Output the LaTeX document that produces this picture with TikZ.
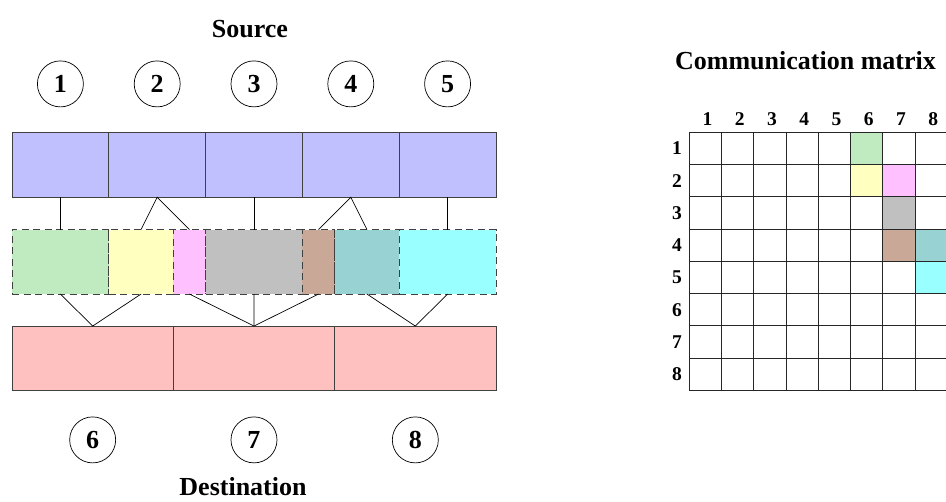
\documentclass[tikz,border=0pt]{standalone}
\usepackage{fontspec}
\setmainfont{Liberation Serif}
\usetikzlibrary{positioning}

\definecolor{srcblue}{HTML}{C0C0FF}
\definecolor{dstpink}{HTML}{FFC0C0}
\definecolor{pgreen}{HTML}{C0EAC0}
\definecolor{pyellow}{HTML}{FFFFC0}
\definecolor{ppink}{HTML}{FFC0FF}
\definecolor{pgray}{HTML}{C0C0C0}
\definecolor{pbrown}{HTML}{C9A897}
\definecolor{pteal}{HTML}{99D2D2}
\definecolor{pcyan}{HTML}{99FFFF}

\tikzset{
  part/.style={draw=black!75, line width=0.8pt, minimum height=64.5pt,
    outer sep=0pt, inner sep=0pt},
  srcbox/.style={part, fill=srcblue, minimum width=96.8pt},
  piece/.style={part, dash pattern=on 7pt off 4.5pt, fill=#1},
  dstbox/.style={part, fill=dstpink, minimum width=161.33pt},
  proc/.style={circle, draw, line width=0.7pt, minimum size=46pt, inner sep=0pt,
    font=\fontsize{26}{30}\selectfont\bfseries},
  heading/.style={inner sep=1pt, font=\fontsize{26}{30}\selectfont\bfseries},
  idx/.style={font=\fontsize{19.5}{22}\selectfont\bfseries},
  link/.style={line width=0.7pt},
  cellline/.style={draw=black!85, line width=0.9pt},
}

\def\gridx{689.3}
\def\gridy{132.3}
\def\cellw{32.27}

\begin{document}
\begin{tikzpicture}[x=1pt, y=-1pt]
  \useasboundingbox (0,0) rectangle (946,502);

  % source blocks
  \node[srcbox] (S1) at (60.4,165) {};
  \node[srcbox, right=0pt of S1] (S2) {};
  \node[srcbox, right=0pt of S2] (S3) {};
  \node[srcbox, right=0pt of S3] (S4) {};
  \node[srcbox, right=0pt of S4] (S5) {};

  % pieces exchanged
  \node[piece=pgreen, minimum width=96.8pt, below=32.3pt of S1] (P1) {};
  \node[piece=pyellow, minimum width=64.53pt, right=0pt of P1] (P2) {};
  \node[piece=ppink, minimum width=32.27pt, right=0pt of P2] (P3) {};
  \node[piece=pgray, minimum width=96.8pt, right=0pt of P3] (P4) {};
  \node[piece=pbrown, minimum width=32.27pt, right=0pt of P4] (P5) {};
  \node[piece=pteal, minimum width=64.53pt, right=0pt of P5] (P6) {};
  \node[piece=pcyan, minimum width=96.8pt, right=0pt of P6] (P7) {};

  % destination blocks
  \node[dstbox, below=32pt of P1.south west, anchor=north west] (D6) {};
  \node[dstbox, right=0pt of D6] (D7) {};
  \node[dstbox, right=0pt of D7] (D8) {};

  % processes
  \node[proc, above=25.5pt of S1] (C1) {1};
  \node[proc, above=25.5pt of S2] (C2) {2};
  \node[proc, above=25.5pt of S3] (C3) {3};
  \node[proc, above=25.5pt of S4] (C4) {4};
  \node[proc, above=25.5pt of S5] (C5) {5};
  \node[proc, below=26pt of D6] (C6) {6};
  \node[proc, below=26pt of D7] (C7) {7};
  \node[proc, below=26pt of D8] (C8) {8};

  \node[heading] (src) at (250,29) {Source};
  \node[heading] (dst) at (243,486.5) {Destination};

  \draw[link] (S1.south) -- (P1.north);
  \draw[link] (P2.north) -- (S2.south) -- (P3.north);
  \draw[link] (S3.south) -- (P4.north);
  \draw[link] (P5.north) -- (S4.south) -- (P6.north);
  \draw[link] (S5.south) -- (P7.north);
  \draw[link] (P1.south) -- (D6.north) -- (P2.south);
  \draw[link] (P3.south) -- (D7.north) -- (P5.south);
  \draw[link] (P4.south) -- (D7.north);
  \draw[link] (P6.south) -- (D8.north) -- (P7.south);

  % communication matrix
  \node[heading] (mtitle) at (805.5,61) {Communication matrix};
  \foreach \r/\c/\col in {1/6/pgreen, 2/6/pyellow, 2/7/ppink, 3/7/pgray,
                          4/7/pbrown, 4/8/pteal, 5/8/pcyan}
    \fill[\col] (\gridx+\c*\cellw-\cellw,\gridy+\r*\cellw-\cellw)
      rectangle ++(\cellw,\cellw);
  \foreach \k in {0,...,8} {
    \draw[cellline] (\gridx+\k*\cellw,\gridy) -- (\gridx+\k*\cellw,\gridy+8*\cellw);
    \draw[cellline] (\gridx,\gridy+\k*\cellw) -- (\gridx+8*\cellw,\gridy+\k*\cellw);
  }
  \foreach \n in {1,...,8} {
    \node[idx] (col\n) at (\gridx+\n*\cellw-\cellw/2+2,119) {\n};
    \node[idx] (row\n) at (677,\gridy+\n*\cellw-\cellw/2) {\n};
  }
\end{tikzpicture}
\end{document}
